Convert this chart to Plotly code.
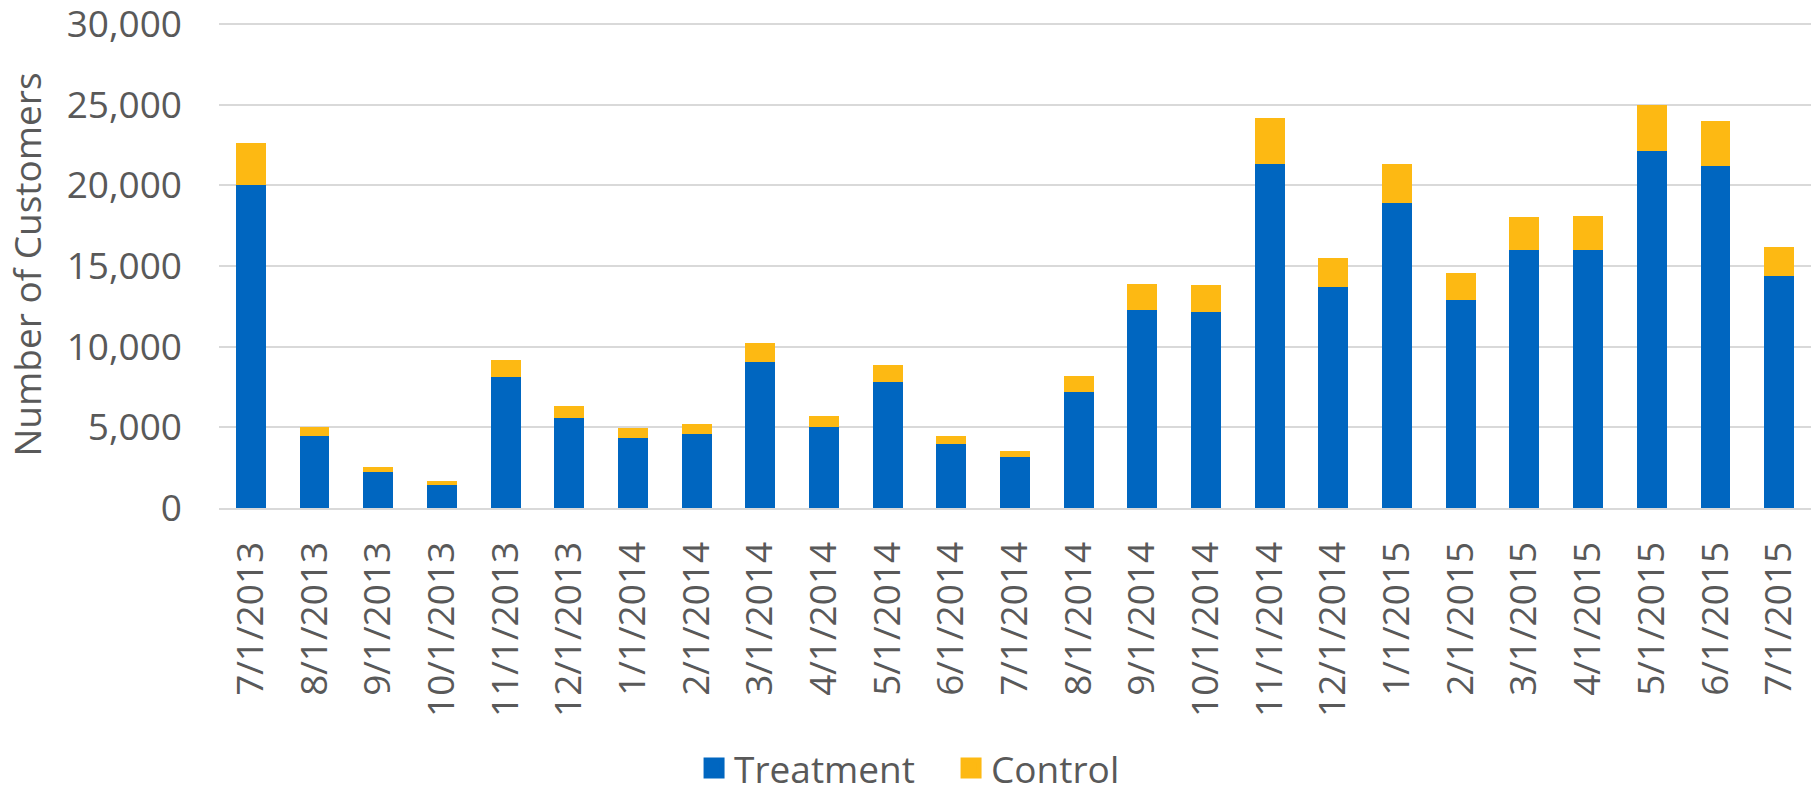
import plotly.graph_objects as go

months = ["7/1/2013", "8/1/2013", "9/1/2013", "10/1/2013", "11/1/2013", "12/1/2013",
          "1/1/2014", "2/1/2014", "3/1/2014", "4/1/2014", "5/1/2014", "6/1/2014",
          "7/1/2014", "8/1/2014", "9/1/2014", "10/1/2014", "11/1/2014", "12/1/2014",
          "1/1/2015", "2/1/2015", "3/1/2015", "4/1/2015", "5/1/2015", "6/1/2015",
          "7/1/2015"]
treatment = [20000, 4450, 2250, 1450, 8150, 5550,
             4350, 4600, 9050, 5050, 7800, 3950,
             3150, 7200, 12300, 12150, 21350, 13700,
             18900, 12900, 16000, 16000, 22100, 21200,
             14350]
control = [2600, 600, 300, 250, 1050, 750,
           600, 600, 1200, 650, 1050, 500,
           400, 1000, 1600, 1650, 2800, 1800,
           2450, 1650, 2050, 2100, 2900, 2800,
           1850]
y_ticks = [0, 5000, 10000, 15000, 20000, 25000, 30000]

BLUE = "#0066C0"
GOLD = "#FDB913"
GREY = "#595959"
FONT = "Open Sans"

fig = go.Figure()
fig.add_trace(go.Bar(x=months, y=treatment, name="Treatment", marker_color=BLUE,
                     marker_line_width=0, showlegend=False))
fig.add_trace(go.Bar(x=months, y=control, name="Control", marker_color=GOLD,
                     marker_line_width=0, showlegend=False))
# legend entries
for nm, col in [("Treatment", BLUE), ("Control", GOLD)]:
    fig.add_trace(go.Scatter(x=[None], y=[None], mode="markers", name=nm,
                             marker=dict(symbol="square", size=16, color=col,
                                         line=dict(color=col, width=5))))

fig.update_layout(
    width=1820, height=790,
    barmode="stack", bargap=0.53,
    plot_bgcolor="white", paper_bgcolor="white",
    margin=dict(l=219, r=9, t=21, b=282, autoexpand=False),
    font=dict(family=FONT, size=37, color=GREY),
    legend=dict(orientation="h", x=0.2984, xanchor="left", y=-0.535, yanchor="middle",
                yref="paper", font=dict(size=37, color=GREY), entrywidth=212,
                traceorder="normal"),
    showlegend=True,
)
fig.update_xaxes(type="category", tickangle=-90, showgrid=False, showline=True,
                 linecolor="#D9D9D9", linewidth=2, ticks="", ticklabelstandoff=17,
                 tickfont=dict(size=37, color=GREY), automargin=False,
                 ticklabeloverflow="allow")
fig.update_yaxes(range=[0, 30186], tickvals=y_ticks, tickformat=",", showgrid=True,
                 gridcolor="#D9D9D9", gridwidth=1.5, zeroline=False, showline=False,
                 ticks="", ticklabelstandoff=36, tickfont=dict(size=37, color=GREY),
                 ticklabeloverflow="allow",
                 title=dict(text="Number of Customers", standoff=13,
                            font=dict(size=37, color=GREY)),
                 automargin=False)

fig.write_html("out.html", config={"displayModeBar": False},
               post_script="document.body.style.margin='0';"
                           "document.body.style.overflow='hidden';")
